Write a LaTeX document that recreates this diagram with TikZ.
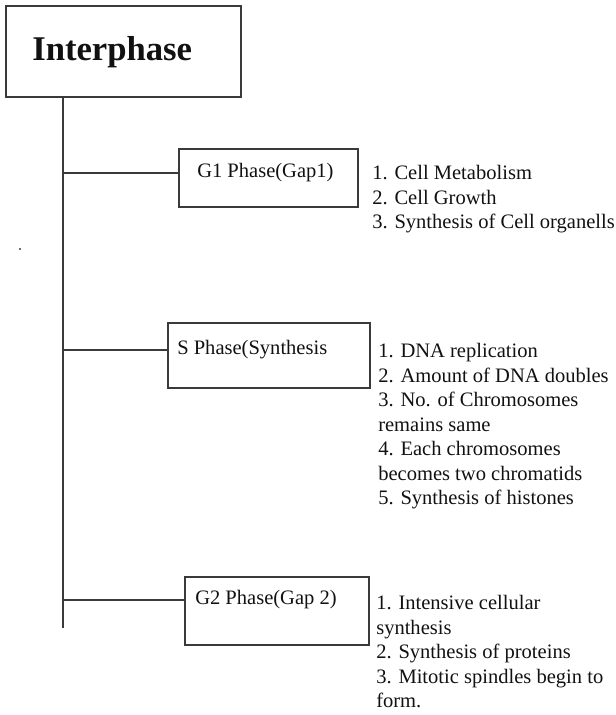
\documentclass[tikz,border=0pt]{standalone}
\usepackage{fontspec}
\setmainfont{Liberation Serif}
\usetikzlibrary{positioning}
\definecolor{ink}  {HTML}{111111}
\definecolor{rule} {HTML}{3A3A3A}
\tikzset{
  every node/.style={font=\fontsize{15.4}{18.4}\selectfont, text=ink},
  % --- nodes
  head/.style  = {draw=rule, line width=1.1pt, inner sep=0pt},
  phase/.style = {draw=rule, line width=1.1pt, inner sep=0pt},
  lbl/.style   = {inner sep=0pt},
  facts/.style = {inner sep=0pt, align=left, anchor=north west},
  % --- edges
  e/.style     = {draw=rule, line width=1.3pt},
}

\begin{document}
\begin{tikzpicture}[x=0.75pt, y=-0.75pt]
  \useasboundingbox (0,0) rectangle (615,715);
  % title box
  \node[head, minimum width=176.25pt, minimum height=68.25pt] (ip) at (123.5,51.5) {};
  \node[lbl, anchor=base west, font=\bfseries\fontsize{26}{30}\selectfont] (iptxt) at (32,60) {Interphase};
  % phase boxes
  \node[phase, minimum width=134.25pt, minimum height=43.5pt] (g1) at (268.5,178) {};
  \node[lbl, anchor=west] (g1txt) at (197,173) {G1 Phase(Gap1)};
  \node[phase, minimum width=151.5pt, minimum height=48.75pt] (s) at (269,355.5) {};
  \node[lbl, anchor=west] (stxt) at (177,350) {S Phase(Synthesis};
  \node[phase, minimum width=138pt, minimum height=51pt] (g2) at (277,611) {};
  \node[lbl, anchor=west] (g2txt) at (195,600) {G2 Phase(Gap 2)};
  % lists
  \node[facts] (g1list) at (372,165) {1. Cell Metabolism\\
    2. Cell Growth\\
    3. Synthesis of Cell organells};
  \node[facts] (slist) at (378,343) {1. DNA replication\\
    2. Amount of DNA doubles\\
    3. No. of Chromosomes\\
    remains same\\
    4. Each chromosomes\\
    becomes two chromatids\\
    5. Synthesis of histones};
  \node[facts] (g2list) at (376,595) {1. Intensive cellular\\
    synthesis\\
    2. Synthesis of proteins\\
    3. Mitotic spindles begin to\\
    form.};
  % trunk and branches
  \coordinate (foot) at (63,628);
  \draw[e] (ip.south -| foot) -- (foot);
  \foreach \ph in {g1,s,g2}
    \draw[e] (\ph txt -| foot) -- (\ph txt -| \ph.west);
  \fill[rule] (20,249) circle (1.1);
\end{tikzpicture}
\end{document}
